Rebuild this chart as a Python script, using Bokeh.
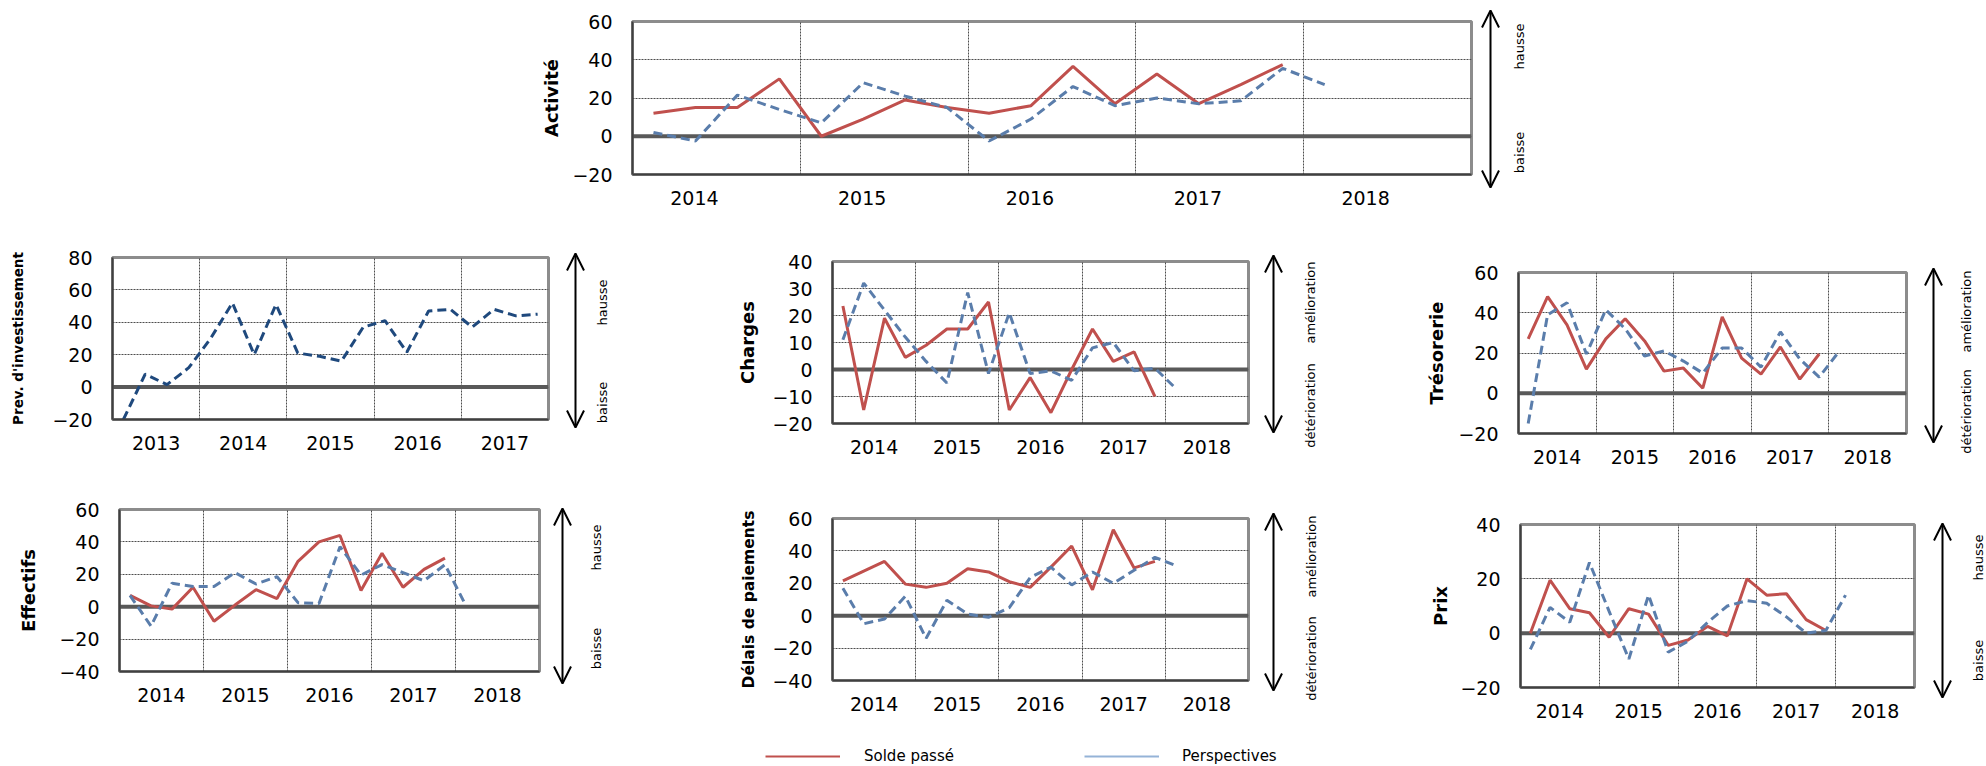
from math import pi

from bokeh.embed import file_html
from bokeh.models import (Arrow, FixedTicker, Label, Legend, LegendItem,
                          OpenHead, Range1d, Span)
from bokeh.plotting import figure
from bokeh.resources import INLINE

# ---------------------------------------------------------------- data
# Quarterly balances of opinion (solde passé = past quarter, perspectives = outlook)
PERIODS_2013 = [f"{y}T{q}" for y in range(2013, 2019) for q in (1, 2, 3, 4)]
PERIODS_2014 = [f"{y}T{q}" for y in range(2014, 2019) for q in (1, 2, 3, 4)]

activite_solde = [12, 15, 15, 30, 0, 9, 19, 15, 12, 16, 36.5, 17, 32.5, 17, 27, 37.5]
activite_persp = [2, -2.5, 21.5, 14, 7, 28, 21, 15, -2.5, 9, 26, 16, 20, 17, 18.5, 35.5, 27]

investissement_prev = [-20, 8, 1.5, 12, 30, 52, 20, 51, 21, 19, 16, 37, 41, 21.5,
                       47, 48, 37, 48, 44, 45]

charges_solde = [23.5, -15, 19, 4.5, 9, 15, 15, 25, -15, -3, -16, 0, 15, 3, 6.5, -10]
charges_persp = [11, 32, 22, 12, 3, -5, 28.5, -1.5, 21, -1.5, -0.5, -4, 8, 10, -0.5, 0.5, -7]

tresorerie_solde = [27, 48, 34, 12, 27, 37, 26, 11, 12.5, 2.5, 38, 17.5, 9.5, 23, 7, 19.5]
tresorerie_persp = [-15, 39, 45, 19.5, 41.5, 32, 18.5, 21, 16, 10, 22.5, 22.5, 13, 30.5,
                    17, 8, 20.5]

effectifs_solde = [7, 0.5, -1.5, 12, -9, 1, 10.5, 5, 28, 40, 44, 10, 33, 12, 23, 30]
effectifs_persp = [7, -12, 14.5, 12.5, 12.5, 21, 14, 18.5, 2.5, 2, 37, 19.5, 26, 21, 16,
                   26, 0.5]

delais_solde = [21.5, 27.5, 33.5, 19.5, 17.5, 20, 29, 27, 21, 17.5, 30, 43, 16, 53, 29.5, 33.5]
delais_persp = [17, -5, -2, 12, -14, 9.5, 1, -1, 5, 23.5, 30, 19, 27, 20, 28, 36, 31]

prix_solde = [0, 19.5, 9, 7.5, -1.5, 9, 7, -4.5, -2.5, 2.5, -1, 20, 14, 14.5, 5, 1]
prix_persp = [-6, 9.5, 4, 26, 8, -9.5, 14, -7, -3, 4, 10, 12, 11, 6, 0, 1, 14]

LEGEND_LABELS = ["Solde passé", "Perspectives"]

# ---------------------------------------------------------------- style
FONT = "DejaVu Sans"
RED = "#C0504D"
BLUE = "#5A7DAB"
NAVY = "#1F497D"
LIGHT_BLUE = "#95B3D7"
GRID = "#4d4d4d"
DASH = "9 5"

roots = []       # every figure of the page
positions = []   # its top-left corner on the page (px)


def quarter_x(label):
    """Centre of a quarter on a continuous year axis ("2015T3" -> 2015.625)."""
    year, q = label.split("T")
    return int(year) + (int(q) - 0.5) / 4


def panel(title, first_year, yticks, series, frame, borders, side,
          title_size=18, title_gap=20, label_shift=0.0):
    fl, ft, fw, fh = frame          # frame position and size on the page
    L, T, B = borders               # room for axes / titles around the frame
    R = 3
    periods = PERIODS_2013 if first_year == 2013 else PERIODS_2014
    ymin, ymax = yticks[0], yticks[-1]
    x1 = first_year + 5
    sx = (x1 - first_year) / fw     # years per pixel
    sy = (ymax - ymin) / fh         # units per pixel

    p = figure(width=L + fw + R, height=T + fh + B,
               x_range=Range1d(first_year, x1), y_range=Range1d(ymin, ymax),
               output_backend="svg", toolbar_location=None,
               min_border_left=L, min_border_right=R,
               min_border_top=T, min_border_bottom=B,
               background_fill_color="white", border_fill_color="white")
    p.outline_line_color = "#8c8c8c"
    p.outline_line_width = 3

    ticks = [first_year + k + 0.5 + label_shift for k in range(5)]
    p.xaxis.ticker = FixedTicker(ticks=ticks)
    p.xaxis.major_label_overrides = {t: str(first_year + k) for k, t in enumerate(ticks)}
    p.xgrid.ticker = FixedTicker(ticks=[first_year + k for k in range(1, 5)])
    p.yaxis.ticker = FixedTicker(ticks=yticks)

    for ax in (p.xaxis[0], p.yaxis[0]):
        ax.major_tick_line_color = None
        ax.minor_tick_line_color = None
        ax.axis_line_color = "#404040"
        ax.axis_line_width = 2
        ax.major_label_text_font = FONT
        ax.major_label_text_font_size = "19px"
        ax.major_label_text_color = "black"
    p.xaxis.major_label_standoff = 10
    p.yaxis.major_label_standoff = 14

    p.yaxis.axis_label = title
    p.yaxis.axis_label_text_font = FONT
    p.yaxis.axis_label_text_font_style = "bold"
    p.yaxis.axis_label_text_font_size = f"{title_size}px"
    p.yaxis.axis_label_text_color = "black"
    p.yaxis.axis_label_standoff = title_gap

    for g in (p.xgrid[0], p.ygrid[0]):
        g.grid_line_color = GRID
        g.grid_line_dash = "2 1"
        g.grid_line_width = 1

    p.add_layout(Span(location=0, dimension="width", line_color="#595959",
                      line_width=4, level="underlay"))

    for values, color, dash in series:
        xs = [quarter_x(lbl) for lbl in periods[:len(values)]]
        p.line(xs, values, line_color=color, line_width=3, line_dash=dash)

    roots.append(p)
    positions.append((fl - L, ft - T))

    # strip right of the frame: double arrow with its two captions,
    # on the same vertical scale as the panel
    side_w, a_dx, a_up, a_down, l_dx, up_yc, down_yc, up_txt, down_txt = side
    s = figure(width=side_w, height=T + fh + B,
               x_range=Range1d(x1 + R * sx, x1 + (R + side_w) * sx),
               y_range=Range1d(ymin - B * sy, ymax + T * sy),
               output_backend="svg", toolbar_location=None,
               x_axis_location=None, y_axis_location=None,
               min_border=0, min_border_left=0, min_border_right=0,
               min_border_top=0, min_border_bottom=0,
               background_fill_color="white", border_fill_color="white")
    s.outline_line_color = None
    s.grid.visible = False
    ax_ = x1 + a_dx * sx
    s.add_layout(Arrow(x_start=ax_, y_start=ymin - a_down * sy,
                       x_end=ax_, y_end=ymax + a_up * sy,
                       start=OpenHead(size=17, line_width=2, line_color="black"),
                       end=OpenHead(size=17, line_width=2, line_color="black"),
                       line_width=2, line_color="black"))
    lx = x1 + l_dx * sx
    for txt, yc in ((up_txt, up_yc), (down_txt, down_yc)):
        s.add_layout(Label(x=lx, y=ymax - yc * sy, text=txt, angle=pi / 2,
                           text_align="center", text_baseline="middle",
                           text_font=FONT, text_font_size="13px", text_color="black"))
    roots.append(s)
    positions.append((fl + fw + R, ft - T))


UPDOWN = ("hausse", "baisse")
BETTER = ("amélioration", "détérioration")

panel("Activité", 2014, [-20, 0, 20, 40, 60],
      [(activite_solde, RED, "solid"), (activite_persp, BLUE, DASH)],
      (632, 21, 839, 153), (100, 21, 41),
      (76, 19, 11, 13, 48, 25, 131, *UPDOWN), 18, 7, -0.131)

panel("Prev. d'investissement", 2013, [-20, 0, 20, 40, 60, 80],
      [(investissement_prev, NAVY, DASH)],
      (112, 257, 436, 162), (112, 14, 45),
      (89, 27, 4, 8, 54, 45, 145, *UPDOWN), 13.5, 23)

panel("Charges", 2014, [-20, -10, 0, 10, 20, 30, 40],
      [(charges_solde, RED, "solid"), (charges_persp, BLUE, DASH)],
      (832, 261, 416, 162), (110, 14, 45),
      (129, 25, 6, 9, 62, 41, 144, *BETTER), 18, 11)

panel("Trésorerie", 2014, [-20, 0, 20, 40, 60],
      [(tresorerie_solde, RED, "solid"), (tresorerie_persp, BLUE, DASH)],
      (1518, 272, 388, 161), (100, 14, 40),
      (77, 27, 4, 9, 60, 39, 139, *BETTER), 18, 8)

panel("Effectifs", 2014, [-40, -20, 0, 20, 40, 60],
      [(effectifs_solde, RED, "solid"), (effectifs_persp, BLUE, DASH)],
      (119, 509, 420, 162), (119, 14, 45),
      (98, 23, 1, 12, 57, 38, 139, *UPDOWN), 18, 17)

panel("Délais de paiements", 2014, [-40, -20, 0, 20, 40, 60],
      [(delais_solde, RED, "solid"), (delais_persp, BLUE, DASH)],
      (832, 518, 416, 162), (110, 14, 45),
      (129, 25, 5, 10, 63, 38, 140, *BETTER), 15.5, 11)

panel("Prix", 2014, [-20, 0, 20, 40],
      [(prix_solde, RED, "solid"), (prix_persp, BLUE, DASH)],
      (1520, 524, 394, 163), (110, 14, 40),
      (69, 28, 1, 10, 64, 33, 136, *UPDOWN), 18, 6)

# ---------------------------------------------------------------- legend strip
p_leg = figure(width=740, height=36, x_range=Range1d(0, 1), y_range=Range1d(0, 1),
               output_backend="svg", toolbar_location=None,
               x_axis_location=None, y_axis_location=None,
               min_border=0, min_border_left=0, min_border_right=0,
               min_border_top=0, min_border_bottom=0,
               background_fill_color="white", border_fill_color="white")
p_leg.outline_line_color = None
p_leg.grid.visible = False
nan = float("nan")
r_solde = p_leg.line(x=[nan], y=[nan], line_color=RED, line_width=2)
r_persp = p_leg.line(x=[nan], y=[nan], line_color=LIGHT_BLUE, line_width=2)
for rend, lab, loc, gap in ((r_solde, LEGEND_LABELS[0], (125, 0), 24),
                            (r_persp, LEGEND_LABELS[1], (444, 0), 23)):
    p_leg.add_layout(Legend(items=[LegendItem(label=lab, renderers=[rend])], location=loc,
                            orientation="horizontal", glyph_width=75, glyph_height=20,
                            label_height=20, label_standoff=gap, padding=0, margin=0,
                            border_line_color=None, background_fill_alpha=0,
                            label_text_font=FONT, label_text_font_size="15px",
                            label_text_color="black"))
roots.append(p_leg)
positions.append((640, 730))

PAGE = """
{% block contents %}
{% for doc in docs %}
{% for root in doc.roots %}
<div style="position:absolute;left:{{ pos[loop.index0][0] }}px;top:{{ pos[loop.index0][1] }}px;">
{{ embed(root) }}
</div>
{% endfor %}
{% endfor %}
{% endblock %}
"""

html = file_html(roots, INLINE, title="Enquête de conjoncture",
                 template=PAGE, template_variables={"pos": positions})
open("out.html", "w").write(html)
